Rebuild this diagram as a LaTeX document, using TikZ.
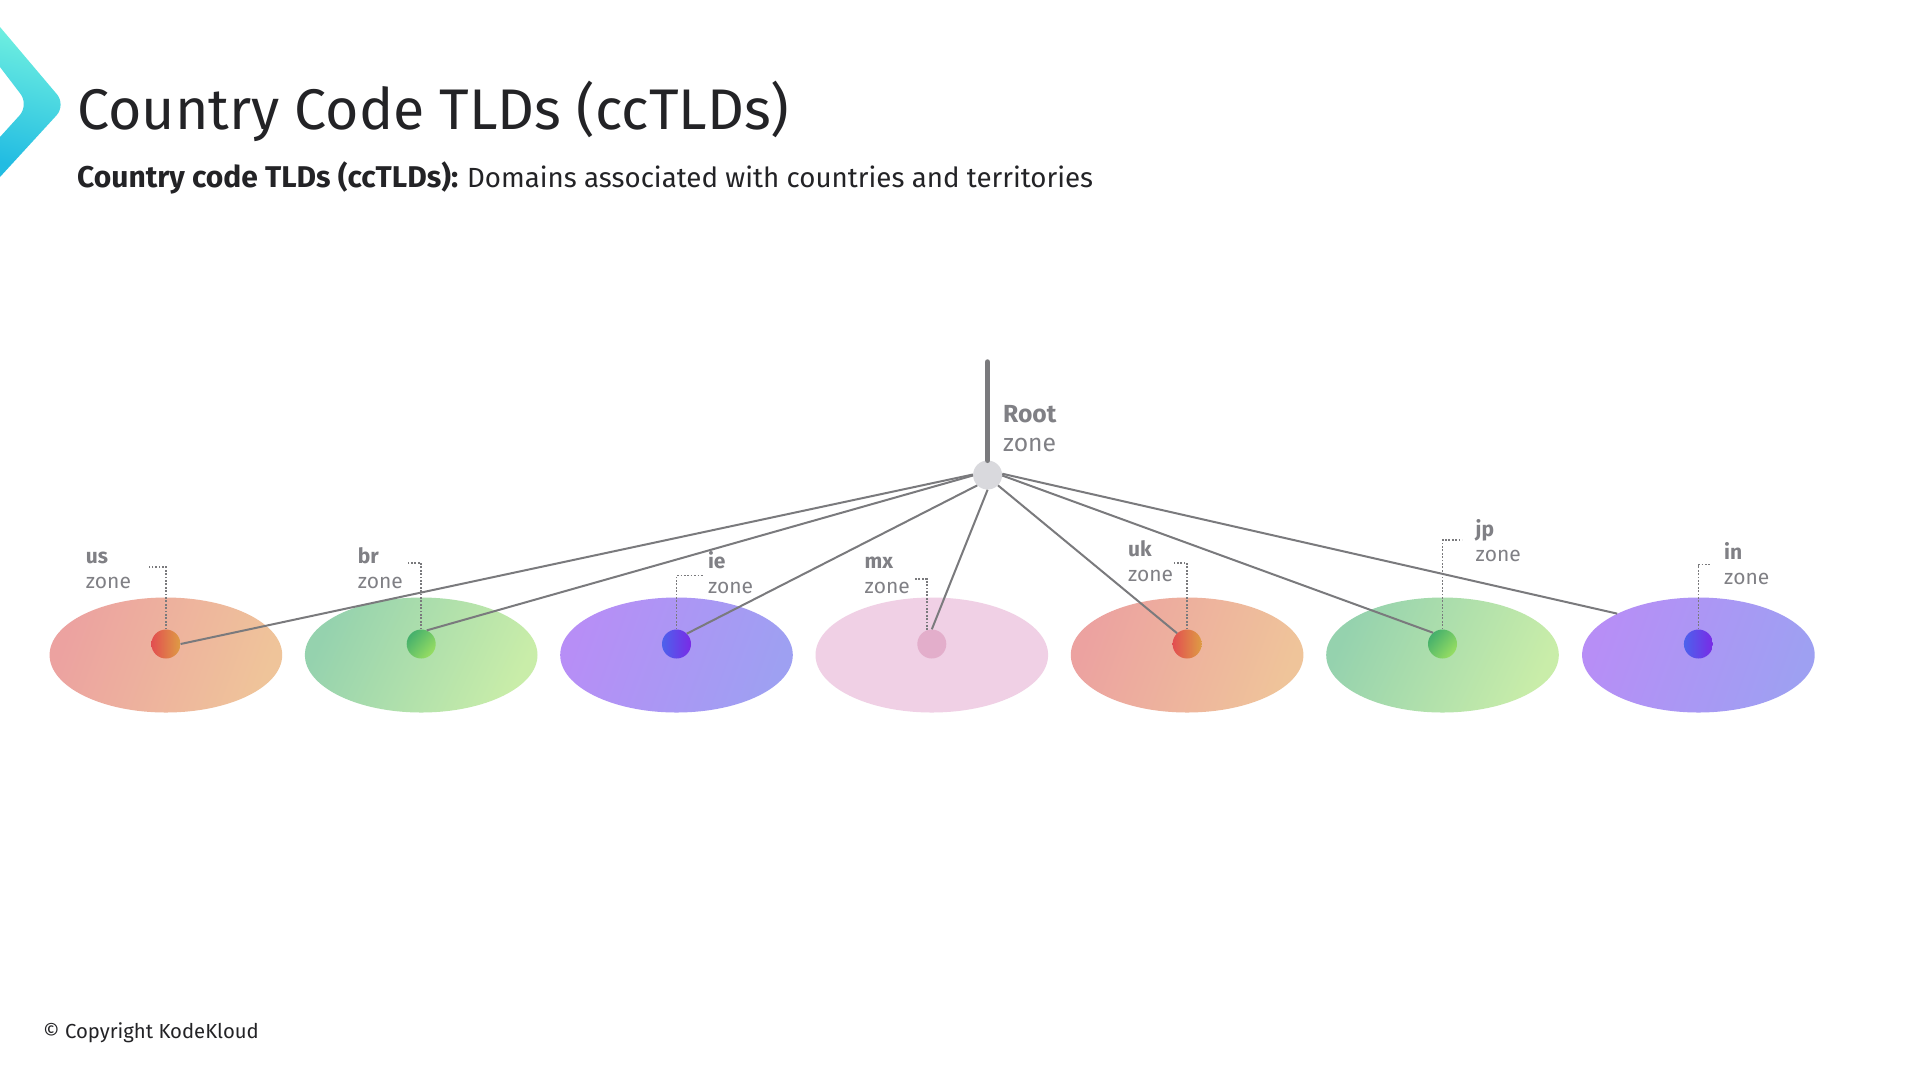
\documentclass[tikz,border=0pt]{standalone}
\usepackage{fontspec}
\setmainfont{Fira Sans}
\usetikzlibrary{shapes.geometric}
\definecolor{linegray}{HTML}{7A7A7D}
\definecolor{textgray}{HTML}{808085}
\definecolor{inkdark}{HTML}{232326}
\definecolor{ovalredA}{HTML}{ECA2A0}
\definecolor{ovalredB}{HTML}{EFC49A}
\definecolor{ovalgreenA}{HTML}{95D2AE}
\definecolor{ovalgreenB}{HTML}{C9EDA9}
\definecolor{ovalpurpleA}{HTML}{B78EF6}
\definecolor{ovalpurpleB}{HTML}{9EA0F2}
\definecolor{ovalpink}{HTML}{F0D0E5}
\definecolor{dotredA}{HTML}{E24E50}
\definecolor{dotredB}{HTML}{DE9C44}
\definecolor{dotgreenA}{HTML}{45B06C}
\definecolor{dotgreenB}{HTML}{98DE62}
\definecolor{dotblueA}{HTML}{4C62EC}
\definecolor{dotblueB}{HTML}{7A2AE6}
\definecolor{dotpink}{HTML}{E3AECB}
\definecolor{rootgray}{HTML}{D9D9DD}
\definecolor{logoA}{HTML}{70F0E0}
\definecolor{logoB}{HTML}{22BCE2}
\tikzset{
  zoneoval/.style={ellipse, minimum width=232.6pt, minimum height=115pt, inner sep=0pt},
  redoval/.style={zoneoval, left color=ovalredA, right color=ovalredB, shading angle=70},
  greenoval/.style={zoneoval, left color=ovalgreenA, right color=ovalgreenB, shading angle=65},
  purpleoval/.style={zoneoval, left color=ovalpurpleA, right color=ovalpurpleB, shading angle=70},
  pinkoval/.style={zoneoval, fill=ovalpink},
  zonedot/.style={circle, minimum size=29pt, inner sep=0pt},
  reddot/.style={zonedot, left color=dotredA, right color=dotredB},
  greendot/.style={zonedot, left color=dotgreenA, right color=dotgreenB, shading angle=50},
  bluedot/.style={zonedot, left color=dotblueA, right color=dotblueB},
  pinkdot/.style={zonedot, fill=dotpink},
  rootdot/.style={zonedot, fill=rootgray},
  link/.style={line width=2pt, linegray},
  leader/.style={line width=1.7pt, linegray, dash pattern=on 1.7pt off 1.7pt},
  zonelabel/.style={anchor=south west, inner sep=0pt, align=left, textgray, font=\fontsize{21}{25}\selectfont},
  rootlabel/.style={anchor=south west, inner sep=0pt, align=left, textgray, font=\fontsize{24.7}{29.5}\selectfont},
}
\begin{document}
\begin{tikzpicture}[x=1pt,y=-1pt]
\useasboundingbox (0,0) rectangle (1920,1080);
\fill [white] (0,0) rectangle (1920,1080);
% heading
\shade [top color=logoA, bottom color=logoB, shading angle=-15] (0,27) [rounded corners=14pt] -- (66,105) [sharp corners] -- (0,177) -- (0,137) [rounded corners=14pt] -- (29,105) [sharp corners] -- (0,67) -- cycle;
\node [anchor=base west, inner sep=0pt, inkdark, font=\fontsize{57.3}{62}\selectfont] (title) at (77,129) {Country Code TLDs (ccTLDs)};
\node [anchor=base west, inner sep=0pt, inkdark, font=\fontsize{27.7}{32}\selectfont] (subtitle) at (77,187) {{\fontsize{30}{32}\selectfont\textbf{Country code TLDs (ccTLDs):}}\hspace{-1pt} Domains associated with countries and territories};
\node [anchor=base west, inner sep=0pt, inkdark, font=\fontsize{20.3}{24}\selectfont] (footer) at (43,1038) {© Copyright KodeKloud};
% zones
\node [redoval] (usoval) at (165.9,655) {};
\node [greenoval] (broval) at (421.2,655) {};
\node [purpleoval] (ieoval) at (676.5,655) {};
\node [pinkoval] (mxoval) at (931.8,655) {};
\node [redoval] (ukoval) at (1187.1,655) {};
\node [greenoval] (jpoval) at (1442.5,655) {};
\node [purpleoval] (inoval) at (1698.4,655) {};
\node [reddot] (usdot) at (165.9,644) {};
\node [greendot] (brdot) at (421.2,644) {};
\node [bluedot] (iedot) at (676.5,644) {};
\node [pinkdot] (mxdot) at (931.8,644) {};
\node [reddot] (ukdot) at (1187.1,644) {};
\node [greendot] (jpdot) at (1442.5,644) {};
\node [bluedot] (indot) at (1698.4,644) {};
% root
\node [rootdot] (root) at (987.6,475) {};
\coordinate (roottop) at (987.6,362);
\draw [line width=5.5pt, linegray, line cap=round] (roottop) -- (root.north);
\draw [link] (root.178) -- (usdot.east);
\draw [link] (root.182) -- (brdot.68);
\draw [link] (root.225) -- (iedot.45);
\draw [link] (root.270) -- (mxdot.north);
\draw [link] (root.315) -- (ukdot.133);
\draw [link] (root.358) -- (jpdot.130);
\draw [link] (root.5) -- (inoval.153);
% dotted leaders
\coordinate (usend) at (149.4,567);
\coordinate (brend) at (407.8,563);
\coordinate (ieend) at (703,575.5);
\coordinate (mxend) at (913.5,579);
\coordinate (ukend) at (1173,563);
\coordinate (jpend) at (1462,540);
\coordinate (inend) at (1710.6,564.5);
\draw [leader] (usdot.north) |- (usend);
\draw [leader] (brdot.north) |- (brend);
\draw [leader] (iedot.north) |- (ieend);
\draw [leader] (mxdot.110) |- (mxend);
\draw [leader] (ukdot.north) |- (ukend);
\draw [leader] (jpdot.north) |- (jpend);
\draw [leader] (indot.north) |- (inend);
% labels
\node [rootlabel] (rootname) at (1002.9,452) {\textbf{Root}\\zone};
\node [zonelabel] (usname) at (85.7,589) {\textbf{us}\\zone};
\node [zonelabel] (brname) at (357.6,589) {\textbf{br}\\zone};
\node [zonelabel] (iename) at (707.8,594) {\textbf{ie}\\zone};
\node [zonelabel] (mxname) at (864.5,594) {\textbf{mx}\\zone};
\node [zonelabel] (ukname) at (1127.8,581.6) {\textbf{uk}\\zone};
\node [zonelabel] (jpname) at (1475.5,562) {\textbf{jp}\\zone};
\node [zonelabel] (inname) at (1724,585) {\textbf{in}\\zone};
\end{tikzpicture}
\end{document}
